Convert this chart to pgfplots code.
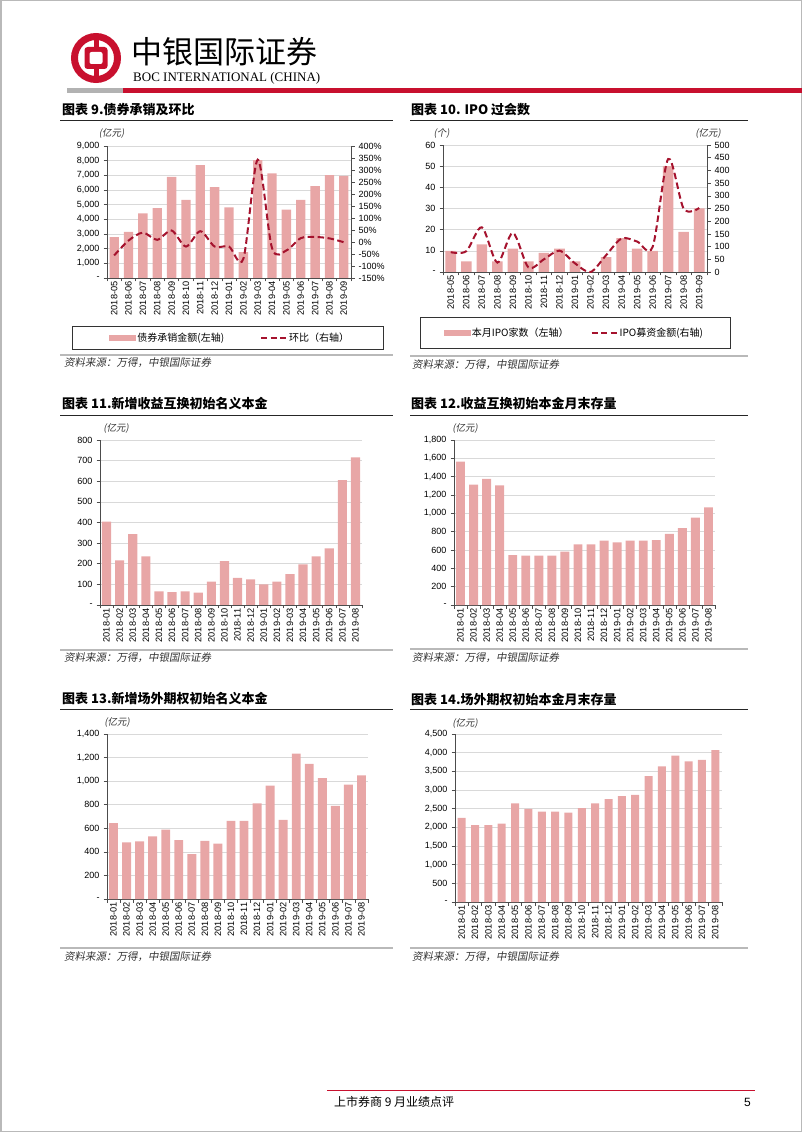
\documentclass[border=0pt]{standalone}
\usepackage{pgfplots}
\pgfplotsset{compat=1.18}
\usepackage{fontspec}
\setmainfont{Liberation Sans}
\newfontfamily\cjk{Noto Sans CJK SC}
\newfontfamily\cjkit[FakeSlant=0.18]{Noto Sans CJK SC}
\newfontfamily\serif{Liberation Serif}
\definecolor{barc}{RGB}{232,166,166}
\definecolor{linec}{RGB}{165,18,45}
\definecolor{bocred}{RGB}{200,16,46}
\definecolor{gridc}{RGB}{217,217,217}
\pgfplotsset{
  cbase/.style={
    scale only axis, anchor=north west, xmin=-0.5,
    axis line style={draw=black!70, line width=0.6pt},
    tick style={draw=black!70, line width=0.6pt},
    tick align=outside, major tick length=3.5pt,
    yticklabel style={font=\fontsize{9}{9}\selectfont, inner sep=3.8pt},
  },
  cbar/.style={
    cbase, ymin=0,
    axis x line*=bottom, axis y line*=left,
    ymajorgrids, grid style={draw=gridc, line width=0.6pt},
    ybar, bar width=0.66,
    xticklabels={},
    extra x tick style={major tick length=0pt, grid=none,
      xticklabel style={rotate=90, anchor=east, font=\fontsize{9.2}{9.2}\selectfont}},
  },
  datesA/.style={xmax=16.5, xtick={-0.5,0.5,...,16.5}, extra x ticks={0,1,...,16},
    extra x tick labels={2018-05,2018-06,2018-07,2018-08,2018-09,2018-10,2018-11,2018-12,2019-01,2019-02,2019-03,2019-04,2019-05,2019-06,2019-07,2019-08,2019-09}},
  datesB/.style={xmax=19.5, xtick={-0.5,0.5,...,19.5}, extra x ticks={0,1,...,19},
    extra x tick labels={2018-01,2018-02,2018-03,2018-04,2018-05,2018-06,2018-07,2018-08,2018-09,2018-10,2018-11,2018-12,2019-01,2019-02,2019-03,2019-04,2019-05,2019-06,2019-07,2019-08}},
  cline/.style={cbase, axis x line=none, axis y line*=right, xtick=\empty},
  dashl/.style={linec, line width=2pt, dash pattern=on 6.5pt off 3.5pt, smooth, tension=0.5},
  barleg/.style={legend image code/.code={\fill[barc] (0pt,-2.5pt) rectangle (26pt,2.5pt);}},
  lineleg/.style={legend image code/.code={\draw[linec, line width=2pt, dash pattern=on 6pt off 3.5pt] (0pt,0pt) -- (25pt,0pt);}},
}
\begin{document}
\begin{tikzpicture}
\useasboundingbox (0,0) rectangle (802pt,-1132pt);
\begin{scope}[x=1pt,y=-1pt]
  % page frame
  \draw[gray!55, line width=1.5pt] (0.75,0.75) rectangle (801.25,1131.25);
  % logo
  \draw[bocred, line width=7pt] (96,58) circle (21.5);
  \fill[bocred] (93.5,36) rectangle (98.5,80);
  \fill[bocred, rounded corners=3pt] (84.5,47) rectangle (107.5,69);
  \fill[white, rounded corners=2pt] (89.5,52) rectangle (102.5,64);
  \node[anchor=west, inner sep=0, font=\cjk\fontsize{31}{31}\selectfont] at (131,52) {中银国际证券};
  \node[anchor=west, inner sep=0, font=\serif\fontsize{13}{13}\selectfont] at (133,78) {BOC INTERNATIONAL (CHINA)};
  \fill[gray!60] (67,88) rectangle (123,93);
  \fill[bocred] (123,88) rectangle (802,93);
  % titles
  \foreach \x/\y/\t in {62/110/{图表 9.债券承销及环比}, 411/110/{图表 10. IPO 过会数},
      62/404/{图表 11.新增收益互换初始名义本金}, 411/404/{图表 12.收益互换初始本金月末存量},
      62/699/{图表 13.新增场外期权初始名义本金}, 411/699/{图表 14.场外期权初始本金月末存量}}
    \node[anchor=west, inner sep=0, font=\cjk\bfseries\fontsize{13}{13}\selectfont] at (\x,\y) {\t};
  \foreach \y in {120.5, 415, 709.5} {
    \draw[black!85, line width=1pt] (60,\y) -- (393,\y);
    \draw[black!85, line width=1pt] (410,\y) -- (748,\y);
  }
  % source lines
  \foreach \xa/\xb/\y in {60/393/355, 410/748/356, 60/393/650, 410/748/649, 60/393/948, 410/748/948}
    \draw[gray!55, line width=1.5pt] (\xa,\y) -- (\xb,\y);
  \foreach \x/\y in {64/363, 412/365, 64/658, 412/658, 64/957, 412/957}
    \node[anchor=west, inner sep=0, text=black!80, font=\cjkit\fontsize{10.5}{10.5}\selectfont] at (\x,\y) {资料来源：万得，中银国际证券};
  % unit labels
  \foreach \x/\y/\t in {111.5/133/{(亿元)}, 441.5/133/{(个)}, 708/133/{(亿元)}, 116/428/{(亿元)}, 465/428/{(亿元)}, 117/722/{(亿元)}, 465/723/{(亿元)}}
    \node[inner sep=0, text=black!80, font=\cjkit\fontsize{9.5}{9.5}\selectfont] at (\x,\y) {\t};
  % legend boxes
  \draw[black!80, line width=0.8pt] (72,326) rectangle (383,349);
  \draw[black!80, line width=0.8pt] (420,317) rectangle (730,348);
  % footer
  \draw[bocred, line width=1pt] (327,1090) -- (755,1090);
  \node[anchor=west, inner sep=0, font=\cjk\fontsize{12}{12}\selectfont] at (334,1102) {上市券商 9 月业绩点评};
  \node[anchor=east, inner sep=0, font=\fontsize{12}{12}\selectfont] at (751,1102) {5};
\end{scope}

% ---------- Chart 9 ----------
\begin{axis}[cbar, datesA, at={(107pt,-146pt)}, width=244pt, height=132pt,
  ymax=9000, ytick={0,1000,...,9000}, bar width=0.65,
  yticklabels={-,{1,000},{2,000},{3,000},{4,000},{5,000},{6,000},{7,000},{8,000},{9,000}}]
\addplot[fill=barc, draw=none] coordinates {(0,2780) (1,3150) (2,4400) (3,4770) (4,6900) (5,5320) (6,7690) (7,6200) (8,4820) (9,1765) (10,8030) (11,7130) (12,4660) (13,5320) (14,6270) (15,7010) (16,6970)};
\end{axis}
\begin{axis}[cline, at={(107pt,-146pt)}, width=244pt, height=132pt,
  xmax=16.5, ymin=-150, ymax=400, ytick={-150,-100,...,400},
  yticklabels={-150\%,-100\%,-50\%,0\%,50\%,100\%,150\%,200\%,250\%,300\%,350\%,400\%},
  legend style={at={(-0.005,-0.451)}, anchor=west, draw=none, fill=none, legend columns=2,
    font=\cjk\fontsize{10}{10}\selectfont, /tikz/every even column/.append style={column sep=34pt}}]
\addlegendimage{barleg}
\addplot[dashl, lineleg] coordinates {(0,-56) (1,6) (2,39) (3,9) (4,48) (5,-19) (6,45) (7,-19) (8,-19) (9,-70) (10,343) (11,-26) (12,-35) (13,16) (14,21) (15,15) (16,-1)};
\legend{债券承销金额(左轴), 环比（右轴）}
\end{axis}

% ---------- Chart 10 ----------
\begin{axis}[cbar, datesA, at={(443pt,-145pt)}, width=264pt, height=127pt,
  ymax=60, ytick={0,10,...,60}, bar width=0.68,
  yticklabels={-,10,20,30,40,50,60}]
\addplot[fill=barc, draw=none] coordinates {(0,10) (1,5) (2,13) (3,5) (4,11) (5,5) (6,9) (7,11) (8,5) (9,0) (10,7) (11,16) (12,11) (13,10) (14,50) (15,19) (16,30)};
\end{axis}
\begin{axis}[cline, at={(443pt,-145pt)}, width=264pt, height=127pt,
  xmax=16.5, ymin=0, ymax=500, ytick={0,50,...,500},
  yticklabels={0,50,100,150,200,250,300,350,400,450,500},
  legend style={at={(-0.01,-0.48)}, anchor=west, draw=none, fill=none, legend columns=2,
    font=\cjk\fontsize{10}{10}\selectfont, /tikz/every even column/.append style={column sep=20pt}}]
\addlegendimage{barleg}
\addplot[dashl, lineleg] coordinates {(0,78) (1,82) (2,176) (3,37) (4,154) (5,18) (6,50) (7,84) (8,34) (9,0) (10,66) (11,132) (12,120) (13,99) (14,445) (15,249) (16,252)};
\legend{本月IPO家数（左轴）, IPO募资金额(右轴)}
\end{axis}

% ---------- Chart 11 ----------
\begin{axis}[cbar, datesB, at={(100pt,-440pt)}, width=262pt, height=165pt,
  ymax=800, ytick={0,100,...,800}, bar width=0.7,
  yticklabels={-,100,200,300,400,500,600,700,800}]
\addplot[fill=barc, draw=none] coordinates {(0,404) (1,216) (2,344) (3,236) (4,66) (5,63) (6,66) (7,60) (8,113) (9,213) (10,132) (11,124) (12,100) (13,113) (14,150) (15,197) (16,236) (17,275) (18,606) (19,716)};
\end{axis}

% ---------- Chart 12 ----------
\begin{axis}[cbar, datesB, at={(454pt,-440pt)}, width=261pt, height=165pt,
  ymax=1800, ytick={0,200,...,1800}, bar width=0.68,
  yticklabels={-,200,400,600,800,{1,000},{1,200},{1,400},{1,600},{1,800}}]
\addplot[fill=barc, draw=none] coordinates {(0,1564) (1,1313) (2,1375) (3,1305) (4,545) (5,538) (6,538) (7,538) (8,582) (9,662) (10,662) (11,702) (12,684) (13,702) (14,702) (15,709) (16,775) (17,840) (18,953) (19,1065)};
\end{axis}

% ---------- Chart 13 ----------
\begin{axis}[cbar, datesB, at={(107pt,-734pt)}, width=261pt, height=165pt,
  ymax=1400, ytick={0,200,...,1400}, bar width=0.68,
  yticklabels={-,200,400,600,800,{1,000},{1,200},{1,400}}]
\addplot[fill=barc, draw=none] coordinates {(0,644) (1,480) (2,489) (3,532) (4,589) (5,500) (6,380) (7,494) (8,469) (9,663) (10,663) (11,811) (12,963) (13,671) (14,1234) (15,1146) (16,1026) (17,791) (18,971) (19,1049)};
\end{axis}

% ---------- Chart 14 ----------
\begin{axis}[cbar, datesB, at={(455pt,-734pt)}, width=267pt, height=168pt,
  ymax=4500, ytick={0,500,...,4500}, bar width=0.6,
  yticklabels={-,500,{1,000},{1,500},{2,000},{2,500},{3,000},{3,500},{4,000},{4,500}}]
\addplot[fill=barc, draw=none] coordinates {(0,2254) (1,2057) (2,2057) (3,2102) (4,2639) (5,2496) (6,2424) (7,2424) (8,2397) (9,2513) (10,2639) (11,2755) (12,2835) (13,2871) (14,3372) (15,3631) (16,3918) (17,3766) (18,3810) (19,4070)};
\end{axis}
\end{tikzpicture}
\end{document}
